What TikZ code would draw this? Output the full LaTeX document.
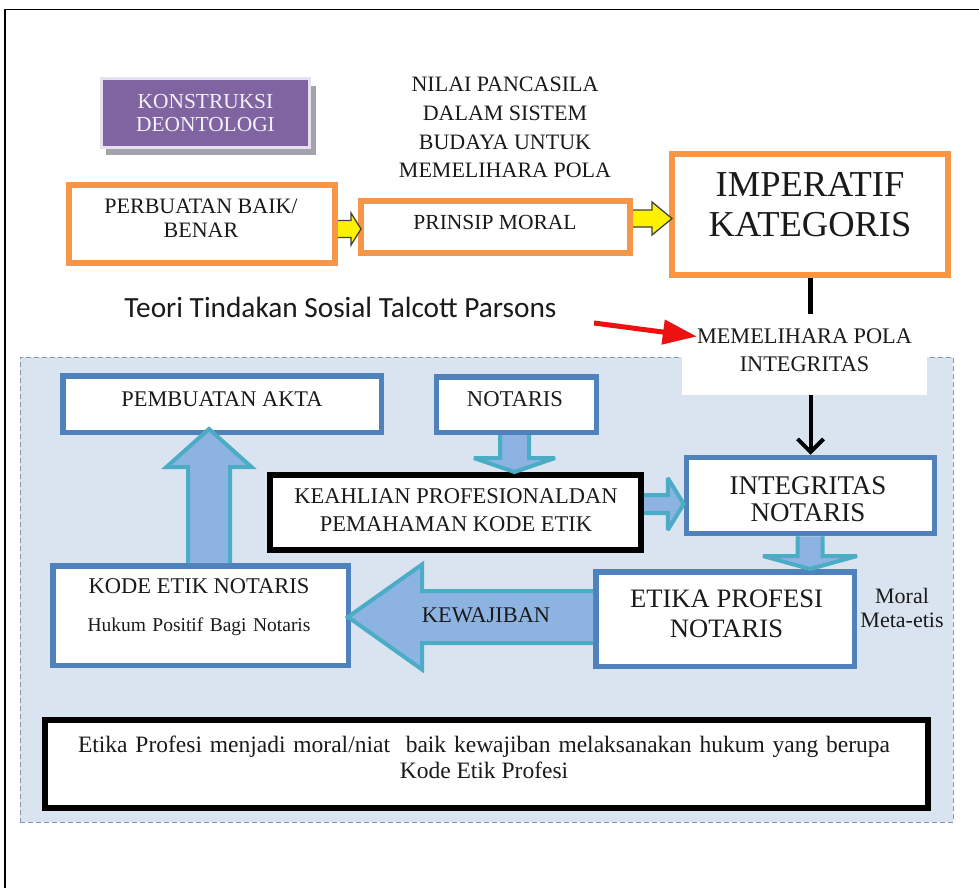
\documentclass[tikz,border=0pt]{standalone}
\usepackage{fontspec}
\setmainfont{Liberation Serif}
\newfontfamily\calibfont{Carlito}
\usetikzlibrary{arrows.meta,calc}

\definecolor{orangeC}{HTML}{F79646}
\definecolor{blueC}{HTML}{4F81BD}
\definecolor{panelC}{HTML}{DAE4F0}
\definecolor{panelLine}{HTML}{8497B0}
\definecolor{blkFill}{HTML}{8DB3E2}
\definecolor{blkLine}{HTML}{4BACC6}
\definecolor{purpleC}{HTML}{8064A2}
\definecolor{purpleEdge}{HTML}{E6E1EE}
\definecolor{purpleText}{HTML}{F4F0F8}
\definecolor{shadowC}{HTML}{A4A3AD}
\definecolor{textC}{HTML}{1A1A1A}
\definecolor{redC}{HTML}{EE1111}

\newcommand\myfs[2]{\fontsize{#1pt}{#2pt}\selectfont}

\tikzset{
  box/.style={rectangle, fill=white, inner sep=0pt},
  orangebox/.style={box, draw=orangeC, line width=6pt},
  bluebox/.style={box, draw=blueC, line width=5.5pt},
  blackbox/.style={box, draw=black, line width=6pt},
  txt/.style={inner sep=0pt, align=center, text=textC},
  blkfill/.style={fill=blkFill},
  blkline/.style={draw=blkLine, line width=4pt, line join=miter, miter limit=3},
  yelfill/.style={fill=yellow},
  yelline/.style={draw=black!75, line width=1.3pt, line join=miter},
}

% vertical block arrow: [style prefix]{base point}{tip point}{shaft half}{head half}{head length}
\newcommand\vblock[6][blk]{%
  \fill[#1fill] let \p1=#2, \p2=#3, \n1={sign(\y2-\y1)} in
    ({\x1-#4},\y1) -- ({\x1-#4},{\y2-(\n1)*#6}) -- ({\x1-#5},{\y2-(\n1)*#6}) -- (\x1,\y2)
    -- ({\x1+#5},{\y2-(\n1)*#6}) -- ({\x1+#4},{\y2-(\n1)*#6}) -- ({\x1+#4},\y1) -- cycle;
  \draw[#1line] let \p1=#2, \p2=#3, \n1={sign(\y2-\y1)} in
    ({\x1-#4},\y1) -- ({\x1-#4},{\y2-(\n1)*#6}) -- ({\x1-#5},{\y2-(\n1)*#6}) -- (\x1,\y2)
    -- ({\x1+#5},{\y2-(\n1)*#6}) -- ({\x1+#4},{\y2-(\n1)*#6}) -- ({\x1+#4},\y1);}
% horizontal block arrow, same arguments
\newcommand\hblock[6][blk]{%
  \fill[#1fill] let \p1=#2, \p2=#3, \n1={sign(\x2-\x1)} in
    (\x1,{\y1-#4}) -- ({\x2-(\n1)*#6},{\y1-#4}) -- ({\x2-(\n1)*#6},{\y1-#5}) -- (\x2,\y1)
    -- ({\x2-(\n1)*#6},{\y1+#5}) -- ({\x2-(\n1)*#6},{\y1+#4}) -- (\x1,{\y1+#4}) -- cycle;
  \draw[#1line] let \p1=#2, \p2=#3, \n1={sign(\x2-\x1)} in
    (\x1,{\y1-#4}) -- ({\x2-(\n1)*#6},{\y1-#4}) -- ({\x2-(\n1)*#6},{\y1-#5}) -- (\x2,\y1)
    -- ({\x2-(\n1)*#6},{\y1+#5}) -- ({\x2-(\n1)*#6},{\y1+#4}) -- (\x1,{\y1+#4});}

\begin{document}
\begin{tikzpicture}[x=1pt,y=-1pt]
\useasboundingbox (0,0) rectangle (979,888);
\clip (0,0) rectangle (979,888);

% page frame
\draw[line width=1.3pt] (5,9.5) rectangle (1100,1100);

% shaded dashed panel
\node[rectangle, fill=panelC, draw=panelLine, line width=1pt, dash pattern=on 5pt off 3pt,
      minimum width=933pt, minimum height=465pt, inner sep=0pt] (panel) at (486.5,589.5) {};
% white field behind the pattern-maintenance label
\node[rectangle, fill=white, inner sep=0pt, minimum width=245pt, minimum height=81pt] (memel) at (804.5,354.5) {};

% title badge
\fill[shadowC] (106,86) rectangle (316,155);
\node[rectangle, fill=purpleC, draw=purpleEdge, line width=3pt, minimum width=208pt, minimum height=68pt,
      inner sep=0pt, text=purpleText, align=center, font={\myfs{21.4}{23}}] (konst) at (205.5,113) {KONSTRUKSI\\DEONTOLOGI};

% boxes
\node[orangebox, minimum width=266pt, minimum height=78pt] (perb) at (202,224) {};
\node[orangebox, minimum width=269pt, minimum height=52pt] (prin) at (495.5,227) {};
\node[orangebox, minimum width=276pt, minimum height=121pt] (imp) at (810,214.5) {};
\node[bluebox, minimum width=318.5pt, minimum height=56.5pt] (pemb) at (222,404) {};
\node[bluebox, minimum width=160pt, minimum height=55.5pt] (notaris) at (516.5,404.5) {};
\node[blackbox, minimum width=371pt, minimum height=75pt] (keah) at (455.5,512.5) {};
\node[bluebox, minimum width=248pt, minimum height=76pt] (intg) at (810.5,495.5) {};
\node[bluebox, minimum width=295.5pt, minimum height=99.5pt] (kode) at (200.5,615.5) {};
\node[bluebox, minimum width=258.5pt, minimum height=94.5pt] (etika) at (725,619) {};
\node[blackbox, minimum width=883pt, minimum height=88pt] (bottom) at (486.5,764) {};

% block arrows
\hblock[yel]{($(perb.east)+(0,5)$)}{($(prin.west)+(3,0)$)}{8.5}{16}{10}
\hblock[yel]{($(prin.east)+(0,-8.5)$)}{($(imp.west)+(3,0)$)}{8.5}{16.5}{20}
\vblock{($(kode.north)+(8.5,0)$)}{($(pemb.south)+(0,-6)$)}{21}{42.5}{38}
\vblock{($(notaris.south)+(-2,0)$)}{(keah.north)}{14.5}{40.5}{14}
\hblock{($(keah.east)+(0,-8.5)$)}{(intg.west)}{9}{26}{16}
\vblock{($(intg.south)+(-0.5,0)$)}{(etika.north)}{12.5}{47}{13}
\hblock{($(etika.west)+(0,-2)$)}{($(kode.east)+(-3,0)$)}{26}{52.5}{74}

% texts
\node[txt, font={\myfs{22}{28.7}}] (nilai) at (505,127.7) {NILAI PANCASILA\\DALAM SISTEM\\BUDAYA UNTUK\\MEMELIHARA POLA};
\node[txt, font={\myfs{22}{24}}] (perbt) at (201,218.7) {PERBUATAN BAIK/\\BENAR};
\node[txt, font={\myfs{21.5}{24}}, anchor=base] (print) at (495,229) {PRINSIP MORAL};
\node[txt, font={\myfs{36.5}{40}}] (impt) at (810,204.9) {IMPERATIF\\KATEGORIS};
\node[txt, font={\calibfont\myfs{29.3}{33}}, anchor=base] (teori) at (340.5,317) {Teori Tindakan Sosial Talcott Parsons};
\node[txt, font={\myfs{22.3}{28}}] (memelt) at (804.5,350.2) {MEMELIHARA POLA\\INTEGRITAS};
\node[txt, font={\myfs{22.4}{26}}, anchor=base] (pembt) at (222,406) {PEMBUATAN AKTA};
\node[txt, font={\myfs{22.6}{26}}, anchor=base] (notarist) at (515,406) {NOTARIS};
\node[txt, font={\myfs{22.5}{28}}] (keaht) at (456,510.5) {KEAHLIAN PROFESIONALDAN\\PEMAHAMAN KODE ETIK};
\node[txt, font={\myfs{27}{27}}] (intgt) at (808,499.5) {INTEGRITAS\\NOTARIS};
\node[txt, font={\myfs{22.5}{26}}, anchor=base] (kodet) at (199,593) {KODE ETIK NOTARIS};
\node[txt, font={\myfs{19.5}{22}}, anchor=base] (hukum) at (199,631) {\makebox[223pt][s]{Hukum Positif Bagi Notaris}};
\node[txt, font={\myfs{22.4}{26}}, anchor=base] (kewt) at (486,622) {KEWAJIBAN};
\node[txt, font={\myfs{26.6}{30}}] (etikat) at (726.5,614.2) {ETIKA PROFESI\\NOTARIS};
\node[txt, font={\myfs{22}{24}}] (moral) at (902,607.5) {Moral\\Meta-etis};
\node[txt, font={\myfs{23.5}{26}}] (bott) at (484,757) {\makebox[812pt][s]{Etika Profesi menjadi moral/niat\ \ baik kewajiban melaksanakan hukum yang berupa}\\Kode Etik Profesi};

% connectors
\draw[line width=5pt] (imp.south) -- (imp.south |- memel.north);
\draw[line width=4pt, -{Straight Barb[length=13pt,width=26pt]}] (intg.north |- memel.south) -- (intg.north);
\coordinate (redtail) at (594,323);
\draw[redC, line width=5pt, -{Triangle[length=34pt,width=24pt]}] (redtail) -- ($(memelt.north west)+(0,8)$);
\end{tikzpicture}
\end{document}
